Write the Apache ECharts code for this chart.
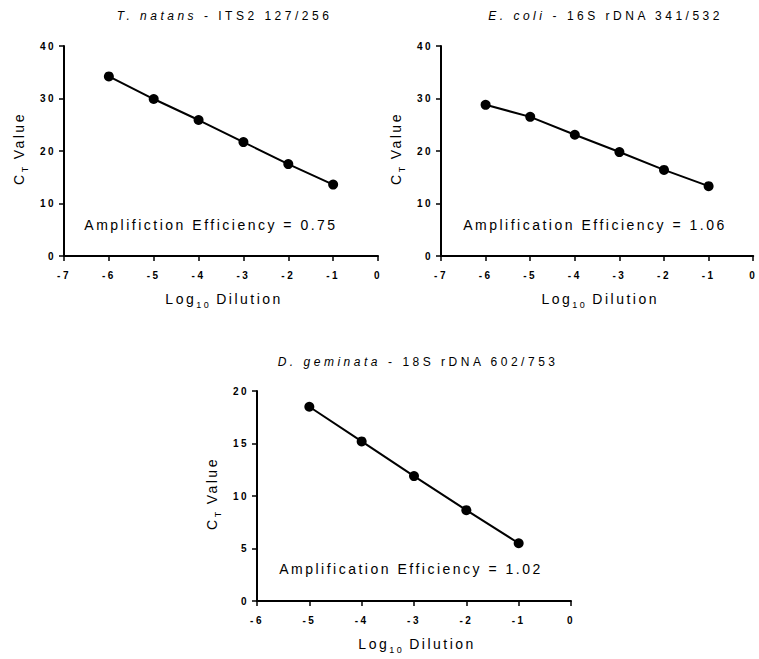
<!DOCTYPE html>
<html>
<head>
<meta charset="utf-8">
<script src="https://cdn.jsdelivr.net/npm/echarts@6/dist/echarts.min.js"></script>
<style>
html,body{margin:0;padding:0;background:#fff;}
#main{width:759px;height:659px;}
#main text{letter-spacing:2.5px;}
#main text[style*="font-size: 12px"]{letter-spacing:3.5px;}
</style>
</head>
<body>
<div id="main"></div>
<script>
// ---- data ----
const dilT = [-6, -5, -4, -3, -2, -1];
const ctT = [34.2, 29.9, 25.9, 21.7, 17.5, 13.6];
const dilE = [-6, -5, -4, -3, -2, -1];
const ctE = [28.8, 26.5, 23.1, 19.8, 16.4, 13.3];
const dilD = [-5, -4, -3, -2, -1];
const ctD = [18.5, 15.2, 11.9, 8.65, 5.5];
const titlesItalic = ['T. natans', 'E. coli', 'D. geminata'];
const titlesRest = ['- ITS2 127/256', '- 16S rDNA 341/532', '- 18S rDNA 602/753'];
const annotations = ['Amplifiction Efficiency = 0.75', 'Amplification Efficiency = 1.06', 'Amplification Efficiency = 1.02'];
const xRanges = [[-7, 0], [-7, 0], [-6, 0]];
const yRanges = [[0, 40, 10], [0, 40, 10], [0, 20, 5]];

const L = 2.5;   // letter spacing (px) of most text, set in CSS
const LT = 3.5;  // letter spacing of 12px titles
const SP = '\u00A0';
const FONT = '"Liberation Sans", Arial, sans-serif';
const pairs = (xs, ys) => xs.map((x, i) => [x, ys[i]]);
const seriesData = [pairs(dilT, ctT), pairs(dilE, ctE), pairs(dilD, ctD)];

const grids = [
  {left: 64, top: 46, width: 314, height: 210},
  {left: 441, top: 46, width: 313, height: 210},
  {left: 257, top: 391, width: 314, height: 210}
];
const titlePos = [[221, 10], [597, 10], [413, 356]];
const annPos = [[211, 218], [595, 218], [411, 562]];

const chart = echarts.init(document.getElementById('main'), null, {renderer: 'svg'});

// rich tokens are drawn centred, so spacing grows on both sides: pad by half of the neighbours' growth
function padFor(a, b, l) { return [0, (a.length + b.length) * l / 2, 0, 0]; }
const big = {fontSize: 14, fontFamily: FONT, fontWeight: 'normal', color: '#000', lineHeight: 20, verticalAlign: 'middle'};
const sub = {fontSize: 9, fontFamily: FONT, fontWeight: 'normal', color: '#000', lineHeight: 10, verticalAlign: 'bottom'};

const option = {
  animation: false,
  backgroundColor: '#fff',
  textStyle: {fontFamily: FONT},
  title: [],
  grid: grids,
  xAxis: [],
  yAxis: [],
  series: []
};

for (let k = 0; k < 3; k++) {
  const it = titlesItalic[k] + SP;
  option.title.push({
    left: titlePos[k][0], top: titlePos[k][1], textAlign: 'center', padding: 0,
    text: '{i|' + it + '}{n|' + titlesRest[k] + '}',
    textStyle: {
      fontWeight: 'normal',
      rich: {
        i: {fontSize: 12, fontStyle: 'italic', fontWeight: 'normal', fontFamily: FONT, color: '#000', padding: padFor(it, titlesRest[k], LT)},
        n: {fontSize: 12, fontWeight: 'normal', fontFamily: FONT, color: '#000'}
      }
    }
  });
  option.title.push({
    left: annPos[k][0], top: annPos[k][1], textAlign: 'center', padding: 0,
    text: annotations[k],
    textStyle: {fontSize: 14, fontWeight: 'normal', fontFamily: FONT, color: '#000'}
  });
  const xa = 'Log', xs = '10' + SP, xb = 'Dilution';
  option.xAxis.push({
    type: 'value', gridIndex: k, min: xRanges[k][0], max: xRanges[k][1], interval: 1,
    name: '{l|' + xa + '}{s|' + xs + '}{a|' + xb + '}', nameLocation: 'middle', nameGap: 33,
    nameTextStyle: {rich: {
      l: Object.assign({}, big, {padding: padFor(xa, xs, L)}),
      s: Object.assign({}, sub, {padding: padFor(xs, xb, L)}),
      a: big}},
    axisLine: {onZero: false, lineStyle: {color: '#000', width: 2}},
    axisTick: {show: true, length: 5, lineStyle: {color: '#000', width: 1.5}},
    axisLabel: {color: '#000', fontSize: 10, fontWeight: 'bold', fontFamily: FONT, margin: 14, showMinLabel: true, showMaxLabel: true},
    splitLine: {show: false}
  });
  const ya = 'C', ys = 'T' + SP, yb = 'Value';
  option.yAxis.push({
    type: 'value', gridIndex: k, min: yRanges[k][0], max: yRanges[k][1], interval: yRanges[k][2],
    name: '{c|' + ya + '}{s|' + ys + '}{a|' + yb + '}', nameLocation: 'middle', nameGap: 35,
    nameTextStyle: {rich: {
      c: Object.assign({}, big, {padding: padFor(ya, ys, L)}),
      s: Object.assign({}, sub, {padding: padFor(ys, yb, L)}),
      a: big}},
    axisLine: {show: true, onZero: false, lineStyle: {color: '#000', width: 2}},
    axisTick: {show: true, length: 5, lineStyle: {color: '#000', width: 1.5}},
    axisLabel: {color: '#000', fontSize: 10, fontWeight: 'bold', fontFamily: FONT, margin: 8},
    splitLine: {show: false}
  });
  option.series.push({
    type: 'line', xAxisIndex: k, yAxisIndex: k,
    data: seriesData[k],
    symbol: 'circle', symbolSize: 10,
    itemStyle: {color: '#000'},
    lineStyle: {color: '#000', width: 2},
    emphasis: {disabled: true}
  });
}

chart.setOption(option);
</script>
</body>
</html>
